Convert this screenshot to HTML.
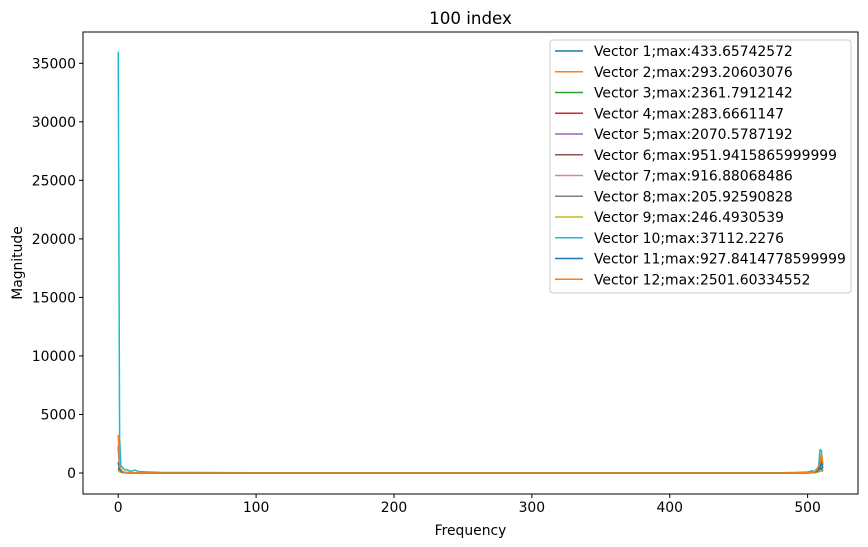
<!DOCTYPE html>
<html><head><meta charset="utf-8"><style>
body{margin:0;background:#fff;}
svg{display:block;font-family:"DejaVu Sans","Liberation Sans",sans-serif;}
</style></head><body>
<svg id="chart" width="868" height="547" viewBox="0 0 868 547">
<rect width="868" height="547" fill="#fff"/>
<g id="plot"></g>
</svg>
<script>
const freqs = [0,1,2,3,4,5,6,8,10,12,15,20,30,100,200,300,400,480,490,495,500,503,505,507,508,509,510,511];
const maxLabels = ["433.65742572","293.20603076","2361.7912142","283.6661147","2070.5787192","951.9415865999999","916.88068486","205.92590828","246.4930539","37112.2276","927.8414778599999","2501.60334552"];
const s1 = [430,200,120,60,40,30,20,15,10,8,6,5,3,2,2,2,2,3,5,8,20,30,60,120,200,300,430,200];
const s2 = [290,150,80,40,30,20,15,10,8,6,5,4,3,2,2,2,2,3,5,8,15,20,40,80,150,200,290,150];
const s3 = [2360,600,300,150,80,50,40,30,20,15,10,8,5,3,3,3,3,5,10,20,40,60,100,300,600,900,1600,800];
const s4 = [280,120,60,40,30,20,15,10,8,6,5,4,3,2,2,2,2,3,5,8,15,20,40,60,120,200,280,150];
const s5 = [2070,500,250,120,70,50,40,30,20,15,10,8,5,3,3,3,3,5,10,20,40,60,100,250,500,800,1400,700];
const s6 = [950,300,150,80,50,40,30,20,15,10,8,6,4,3,3,3,3,4,8,15,30,40,80,150,300,500,900,400];
const s7 = [910,300,150,80,50,40,30,20,15,10,8,6,4,3,3,3,3,4,8,15,30,40,80,150,300,500,900,400];
const s8 = [200,100,60,40,30,20,15,10,8,6,5,4,3,2,2,2,2,3,5,8,15,20,40,60,100,150,200,100];
const s9 = [240,120,60,40,30,20,15,10,8,6,5,4,3,2,2,2,2,3,5,8,15,20,40,60,120,180,240,120];
const s10 = [36000,3000,600,500,350,250,300,200,150,250,120,100,50,20,20,20,20,20,40,60,80,200,120,400,600,2000,1900,700];
const s11 = [920,300,150,80,50,40,30,20,15,10,8,6,4,3,3,3,3,4,8,15,30,40,80,150,300,500,920,400];
const s12 = [3250,600,300,150,80,50,40,30,20,15,10,8,5,3,3,3,3,5,10,20,40,60,100,300,600,1000,1600,800];
const seriesList = [s1,s2,s3,s4,s5,s6,s7,s8,s9,s10,s11,s12];
const colors = ["#1f77b4","#ff7f0e","#2ca02c","#d62728","#9467bd","#8c564b","#e377c2","#7f7f7f","#bcbd22","#17becf","#1f77b4","#ff7f0e"];
const xTicks = [0,100,200,300,400,500];
const yTicks = [0,5000,10000,15000,20000,25000,30000,35000];

const L=83,R=858,T=32,B=494;
const xMin=-25.55,xMax=536.55,yMin=-1794,yMax=37673;
const X=v=>L+(v-xMin)/(xMax-xMin)*(R-L);
const Y=v=>B-(v-yMin)/(yMax-yMin)*(B-T);
const NS="http://www.w3.org/2000/svg";
const g=document.getElementById('plot');
function mk(tag,attrs,parent){const e=document.createElementNS(NS,tag);for(const k in attrs)e.setAttribute(k,attrs[k]);(parent||g).appendChild(e);return e;}

seriesList.forEach((s,i)=>{
  const p=mk('polyline',{points:s.map((v,j)=>X(freqs[j]).toFixed(2)+","+Y(v).toFixed(2)).join(" "),fill:"none",stroke:colors[i],"stroke-width":1.5,"stroke-linejoin":"round"});
  
  
});
const fr=mk('rect',{x:L,y:T,width:R-L,height:B-T,fill:"none",stroke:"#000","stroke-width":1});


xTicks.forEach(t=>{
  const l=mk('line',{x1:X(t),x2:X(t),y1:B,y2:B+4,stroke:"#000"});
  
  
  const tx=mk('text',{x:X(t),y:B+18,"text-anchor":"middle","font-size":"13.9"});
  tx.textContent=t;
  
  
});
yTicks.forEach(t=>{
  const l=mk('line',{x1:L-4,x2:L,y1:Y(t),y2:Y(t),stroke:"#000"});
  
  
  const tx=mk('text',{x:L-7,y:Y(t)+5,"text-anchor":"end","font-size":"13.9"});
  tx.textContent=t;
  
  
});
let t1=mk('text',{x:(L+R)/2,y:24,"text-anchor":"middle","font-size":"16.7"});t1.textContent="100 index";


let t2=mk('text',{x:(L+R)/2,y:535,"text-anchor":"middle","font-size":"13.9"});t2.textContent="Frequency";


let t3=mk('text',{x:0,y:0,"text-anchor":"middle","font-size":"13.9",transform:"translate(22,"+((T+B)/2)+") rotate(-90)"});t3.textContent="Magnitude";


const lg=mk('g',{});


mk('rect',{x:550,y:40,width:301,height:253,rx:3,fill:"#fff","fill-opacity":0.8,stroke:"#ccc"},lg);
maxLabels.forEach((m,i)=>{
  const y=51+i*20.75;
  const e=mk('g',{},lg);
  
  
  mk('line',{x1:555,x2:583,y1:y,y2:y,stroke:colors[i],"stroke-width":1.5},e);
  const tx=mk('text',{x:594,y:y+5,"font-size":"13.9"},e);
  tx.textContent="Vector "+(i+1)+";max:"+m;
});
</script>
</body></html>
